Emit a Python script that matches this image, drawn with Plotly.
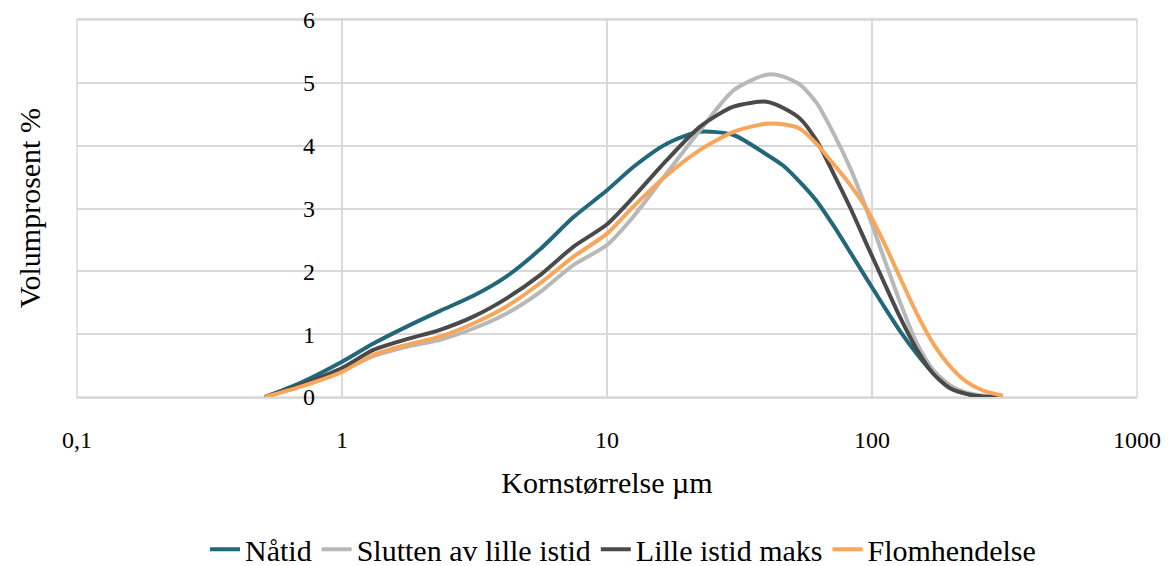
import math
import plotly.graph_objects as go

# grain size (µm)
sizes_um = [0.512, 0.694, 1.0, 1.313, 1.755, 2.344, 3.13, 4.18, 5.59, 7.46, 10.0,
            12.57, 16.8, 22.4, 30.0, 40.0, 46.3, 53.5, 61.8, 71.5, 82.6, 95.5,
            110.3, 127.6, 147.5, 170.3, 197.0, 227.8, 263.0, 312.0]

natid =   [0.0, 0.22, 0.56, 0.85, 1.12, 1.37, 1.61, 1.92, 2.35, 2.86, 3.29,
           3.66, 4.03, 4.22, 4.17, 3.86, 3.68, 3.42, 3.12, 2.73, 2.31, 1.88,
           1.46, 1.05, 0.69, 0.38, 0.16, 0.05, 0.01, 0.0]
slutten = [0.0, 0.17, 0.42, 0.65, 0.8, 0.91, 1.09, 1.33, 1.67, 2.1, 2.42,
           2.87, 3.56, 4.24, 4.88, 5.13, 5.1, 4.97, 4.68, 4.2, 3.65, 2.98,
           2.24, 1.51, 0.86, 0.43, 0.19, 0.07, 0.02, 0.0]
maks =    [0.0, 0.19, 0.46, 0.75, 0.92, 1.07, 1.28, 1.57, 1.94, 2.39, 2.75,
           3.18, 3.77, 4.3, 4.62, 4.7, 4.6, 4.43, 4.08, 3.56, 3.02, 2.43,
           1.85, 1.27, 0.76, 0.37, 0.14, 0.05, 0.01, 0.0]
flom =    [0.0, 0.16, 0.4, 0.67, 0.83, 0.96, 1.17, 1.44, 1.81, 2.23, 2.6,
           3.03, 3.53, 3.93, 4.22, 4.35, 4.34, 4.27, 4.03, 3.71, 3.38, 2.99,
           2.48, 1.9, 1.33, 0.85, 0.49, 0.24, 0.1, 0.02]

series = [
    ("Nåtid", natid, "#22687A"),
    ("Slutten av lille istid", slutten, "#B8B8B8"),
    ("Lille istid maks", maks, "#4A4A4A"),
    ("Flomhendelse", flom, "#F8A65A"),
]

x_tickvals = [0.1, 1, 10, 100, 1000]
x_ticktext = ["0,1", "1", "10", "100", "1000"]
y_tickvals = [0, 1, 2, 3, 4, 5, 6]
x_range_log = [-1, 3]
y_axis_cross = 1  # vertical axis crosses the x axis at 1 µm

fig = go.Figure()
for name, vals, color in series:
    fig.add_trace(go.Scatter(
        x=sizes_um, y=vals, name=name, mode="lines",
        line=dict(color=color, width=4, shape="spline", smoothing=0.7),
    ))

ff = "Liberation Serif, Times New Roman, Times, serif"
fs = 24
fs_title = 30
grid = "#D9D9D9"
cross_frac = (math.log10(y_axis_cross) - x_range_log[0]) / (x_range_log[1] - x_range_log[0])

fig.update_layout(
    width=1167, height=558,
    margin=dict(l=69, r=38, t=12, b=169, autoexpand=False),
    paper_bgcolor="white", plot_bgcolor="white",
    font=dict(family=ff, size=fs, color="#000000"),
    showlegend=True,
    legend=dict(orientation="h", xref="container", x=0.527, xanchor="center",
                yref="container", y=0.03, yanchor="middle",
                font=dict(size=30, family=ff), traceorder="normal"),
)
fig.update_xaxes(
    type="log", range=x_range_log,
    tickvals=x_tickvals, ticktext=x_ticktext,
    showgrid=True, gridcolor=grid, gridwidth=1.5,
    showline=True, linecolor=grid, linewidth=1.5, mirror=True,
    ticks="", zeroline=False, automargin=False,
    tickfont=dict(size=fs, family=ff, color="#000000"),
    ticklabelstandoff=20,
    title=dict(text="Kornstørrelse µm", font=dict(size=fs_title, family=ff, color="#000000"), standoff=20),
)
fig.update_yaxes(
    range=[0, 6], tickvals=y_tickvals,
    anchor="free", position=cross_frac,
    showgrid=True, gridcolor=grid, gridwidth=1.5,
    showline=False, ticks="", zeroline=False, automargin=False,
    tickfont=dict(size=fs, family=ff, color="#000000"),
    ticklabelstandoff=27, ticklabeloverflow="allow",
)
fig.add_shape(type="rect", xref="paper", yref="paper", x0=0, x1=1, y0=0, y1=1,
              line=dict(color=grid, width=1.5), layer="below")
fig.add_annotation(text="Volumprosent %", textangle=-90, xref="paper", yref="paper",
                   x=-0.0445, y=0.5, xanchor="center", yanchor="middle", showarrow=False,
                   font=dict(size=fs_title, family=ff, color="#000000"))

fig.write_html("out.html")
